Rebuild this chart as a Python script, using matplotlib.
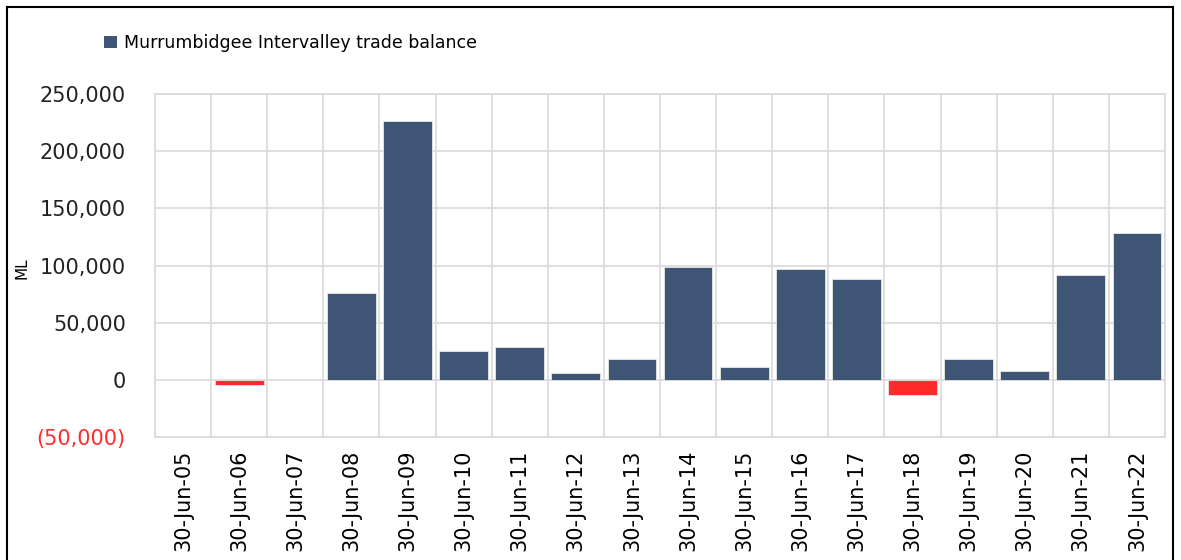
import numpy as np
import matplotlib
matplotlib.use("Agg")
import matplotlib.pyplot as plt
from matplotlib.lines import Line2D
from matplotlib.patches import Patch
from matplotlib.ticker import FuncFormatter

categories = ["30-Jun-%02d" % y for y in range(5, 23)]
trade_balance = [0, -4300, 0, 75900, 226000, 25000, 28500, 5600, 18000,
                 98600, 10800, 96600, 87900, -13400, 18000, 7300, 91400, 128300]

POS_COLOR = "#3e5575"
NEG_COLOR = "#ff2b2b"
GRID_COLOR = "#d9d9d9"


def fmt_ml(v, _pos):
    if v < 0:
        return "({:,.0f})".format(-v)
    return "{:,.0f}".format(v)


fig = plt.figure(figsize=(11.81, 5.6), dpi=100)
ax = fig.add_axes([155 / 1181, 1 - 437 / 560, 1010 / 1181, 343 / 560])

x = np.arange(len(categories))
vals = np.array(trade_balance)
colors = [NEG_COLOR if v < 0 else POS_COLOR for v in vals]
ax.bar(x, vals, width=0.87, color=colors, edgecolor="#e6e6e6", linewidth=0.6, zorder=3)

ax.set_xlim(-0.5, len(categories) - 0.5)
ax.set_ylim(-50000, 250000)
ax.set_yticks(np.arange(-50000, 250001, 50000))
ax.yaxis.set_major_formatter(FuncFormatter(fmt_ml))
ax.set_xticks(x)
ax.set_xticklabels(categories, rotation=90, fontsize=15)
ax.set_xticks(np.arange(-0.5, len(categories), 1), minor=True)

ax.grid(axis="y", which="major", color=GRID_COLOR, linewidth=1.2, zorder=0)
ax.grid(axis="x", which="minor", color=GRID_COLOR, linewidth=1.2, zorder=0)
ax.grid(axis="x", which="major", visible=False)
ax.tick_params(axis="both", which="both", length=0)
ax.tick_params(axis="y", labelsize=15, pad=21)
ax.tick_params(axis="x", pad=9)
for s in ax.spines.values():
    s.set_color(GRID_COLOR)
    s.set_linewidth(1.2)

for lbl, v in zip(ax.get_yticklabels(), ax.get_yticks()):
    lbl.set_color(NEG_COLOR if v < 0 else "#222222")

fig.text(22 / 1181, 1 - 268 / 560, "ML", rotation=90, fontsize=11,
         ha="center", va="center")

handle = Patch(facecolor=POS_COLOR, edgecolor="none")
fig.legend([handle], ["Murrumbidgee Intervalley trade balance"],
           loc="center left", bbox_to_anchor=(88 / 1181, 1 - 43 / 560),
           frameon=False, fontsize=12.5, handlelength=0.75, handleheight=0.75,
           handletextpad=0.4)

# outer chart border (bottom edge is off the picture)
fig.add_artist(Line2D([7 / 1181, 7 / 1181], [0, 1 - 7 / 560], color="black", lw=1.5))
fig.add_artist(Line2D([7 / 1181, 1173 / 1181], [1 - 7 / 560, 1 - 7 / 560], color="black", lw=1.5))
fig.add_artist(Line2D([1173 / 1181, 1173 / 1181], [0, 1 - 7 / 560], color="black", lw=1.5))

fig.savefig("out.png", dpi=100)
